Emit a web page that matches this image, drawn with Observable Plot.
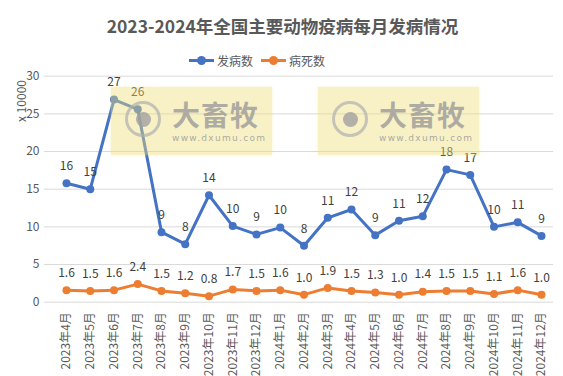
<!DOCTYPE html>
<html><head><meta charset="utf-8">
<script src="https://cdn.jsdelivr.net/npm/d3@7"></script>
<script src="https://cdn.jsdelivr.net/npm/@observablehq/plot@0.6"></script>
<style>
body{margin:0;background:#fff;font-family:"Noto Sans CJK SC","Noto Sans",sans-serif;}
#wrap{position:relative;width:563px;height:376px;overflow:hidden;background:#fff;}
#title{position:absolute;left:0;width:563px;top:13px;text-align:center;font-size:17.5px;font-weight:bold;color:#595959;}
#title span{position:relative;left:1px;}
#legend{position:absolute;top:52px;left:189px;font-size:12px;color:#595959;display:flex;align-items:center;}
.lg{display:flex;align-items:center;margin-right:8px;}
.sw{position:relative;width:25px;height:3px;margin-right:3px;}
.sw i{position:absolute;left:8px;top:-3px;width:9px;height:9px;border-radius:50%;}
#ylab{position:absolute;left:20px;top:101px;transform:translate(-50%,-50%) rotate(-90deg);font-size:12px;color:#595959;white-space:nowrap;}
#chart{position:absolute;left:0;top:66px;}
.wm{position:absolute;width:161px;height:68px;background:rgba(238,222,120,0.42);box-shadow:0 0 3px rgba(238,222,120,0.4);}
.wm .logo{position:absolute;left:14px;top:14px;width:36px;height:36px;border-radius:50%;border:3px solid rgba(175,175,175,0.7);box-sizing:border-box;}
.wm .logo i{position:absolute;left:8px;top:8px;width:15px;height:15px;border-radius:50%;background:rgba(160,160,160,0.8);}
.wm .big{position:absolute;left:61px;top:10px;font-size:28px;font-weight:bold;color:rgba(150,150,150,0.75);letter-spacing:1px;line-height:34px;}
.wm .url{position:absolute;left:61px;top:46px;font-size:9px;color:rgba(150,150,150,0.8);letter-spacing:1.3px;font-family:"DejaVu Sans",sans-serif;}
</style></head>
<body><div id="wrap">
<div id="title"><span>2023-2024年全国主要动物疫病每月发病情况</span></div>
<div id="legend">
 <div class="lg"><div class="sw" style="background:#4472C4"><i style="background:#4472C4"></i></div>发病数</div>
 <div class="lg"><div class="sw" style="background:#ED7D31"><i style="background:#ED7D31"></i></div>病死数</div>
</div>
<div id="ylab">x 10000</div>
<div id="chart"></div>
<div class="wm" style="left:111px;top:87px"><div class="logo"><i></i></div><div class="big">大畜牧</div><div class="url">www.dxumu.com</div></div>
<div class="wm" style="left:318px;top:87px"><div class="logo"><i></i></div><div class="big">大畜牧</div><div class="url">www.dxumu.com</div></div>
</div>
<script>
const months = ["2023年4月","2023年5月","2023年6月","2023年7月","2023年8月","2023年9月","2023年10月","2023年11月","2023年12月","2024年1月","2024年2月","2024年3月","2024年4月","2024年5月","2024年6月","2024年7月","2024年8月","2024年9月","2024年10月","2024年11月","2024年12月"];
const onset = [15.8,15.0,26.9,25.6,9.3,7.7,14.2,10.1,9.0,9.9,7.5,11.2,12.3,8.9,10.8,11.4,17.6,16.9,10.0,10.6,8.8];
const onsetLabels = ["16","15","27","26","9","8","14","10","9","10","8","11","12","9","11","12","18","17","10","11","9"];
const deaths = [1.6,1.5,1.6,2.4,1.5,1.2,0.8,1.7,1.5,1.6,1.0,1.9,1.5,1.3,1.0,1.4,1.5,1.5,1.1,1.6,1.0];
const yTicks = [0,5,10,15,20,25,30];

const A = months.map((m,i)=>({m, v:onset[i], lab:onsetLabels[i]}));
const B = months.map((m,i)=>({m, v:deaths[i], lab:deaths[i].toFixed(1)}));
const font = '"Noto Sans CJK SC","Noto Sans",sans-serif';

const plot = Plot.plot({
  width:563, height:310,
  marginTop:9.7, marginBottom:74.3, marginLeft:44, marginRight:10,
  style:{fontFamily:font, fontSize:"12px", color:"#595959", background:"transparent"},
  x:{type:"point", domain:months, range:[66,541], padding:0, round:false, label:null},
  y:{domain:[0,30], label:null},
  marks:[
    Plot.ruleY(yTicks,{stroke:"#d9d9d9", strokeWidth:1}),
    Plot.axisY({ticks:yTicks, tickSize:0, tickPadding:5, label:null, fontSize:12}),
    Plot.axisX({tickSize:0, tickPadding:10, tickRotate:-90, label:null, fontSize:12}),
    Plot.line(B,{x:"m", y:"v", stroke:"#ED7D31", strokeWidth:3}),
    Plot.dot(B,{x:"m", y:"v", fill:"#ED7D31", r:4}),
    Plot.line(A,{x:"m", y:"v", stroke:"#4472C4", strokeWidth:3}),
    Plot.dot(A,{x:"m", y:"v", fill:"#4472C4", r:4}),
    Plot.text(A,{x:"m", y:"v", text:"lab", dy:-17, fill:"#404040", fontSize:12}),
    Plot.text(B,{x:"m", y:"v", text:"lab", dy:-17, fill:"#404040", fontSize:12})
  ]
});
document.getElementById("chart").appendChild(plot);
</script>
</body></html>
